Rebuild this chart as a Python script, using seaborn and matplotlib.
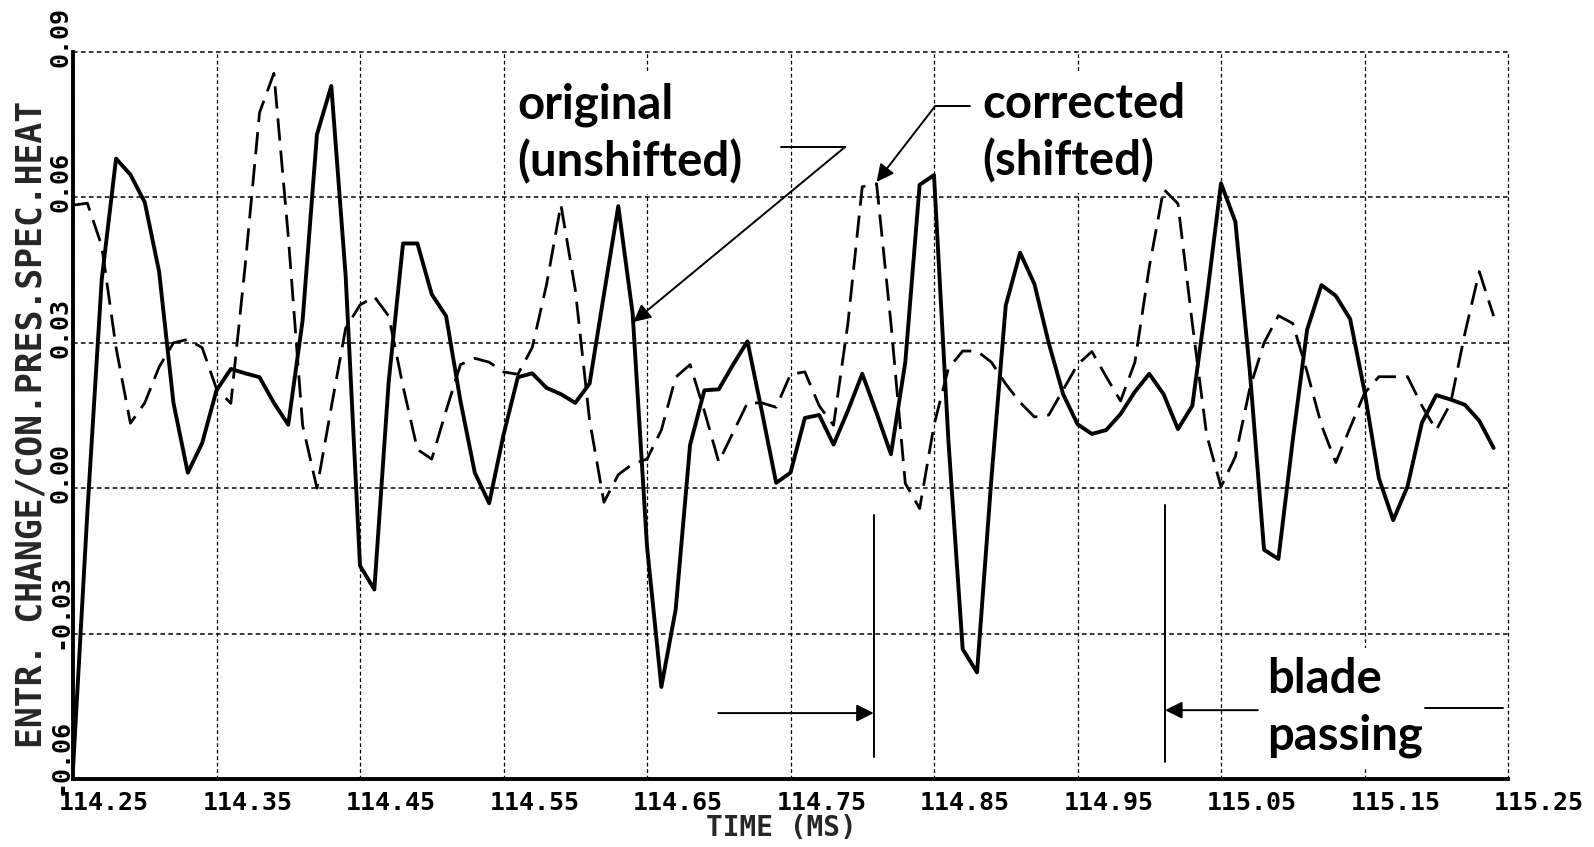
import matplotlib
matplotlib.use("Agg")
import matplotlib.pyplot as plt
import matplotlib.transforms as mtransforms
import pandas as pd
import seaborn as sns

# Sample times (ms), one sample every 0.01 ms
time_ms = [
    114.25, 114.26, 114.27, 114.28, 114.29, 114.30, 114.31, 114.32, 114.33, 114.34,
    114.35, 114.36, 114.37, 114.38, 114.39, 114.40, 114.41, 114.42, 114.43, 114.44,
    114.45, 114.46, 114.47, 114.48, 114.49, 114.50, 114.51, 114.52, 114.53, 114.54,
    114.55, 114.56, 114.57, 114.58, 114.59, 114.60, 114.61, 114.62, 114.63, 114.64,
    114.65, 114.66, 114.67, 114.68, 114.69, 114.70, 114.71, 114.72, 114.73, 114.74,
    114.75, 114.76, 114.77, 114.78, 114.79, 114.80, 114.81, 114.82, 114.83, 114.84,
    114.85, 114.86, 114.87, 114.88, 114.89, 114.90, 114.91, 114.92, 114.93, 114.94,
    114.95, 114.96, 114.97, 114.98, 114.99, 115.00, 115.01, 115.02, 115.03, 115.04,
    115.05, 115.06, 115.07, 115.08, 115.09, 115.10, 115.11, 115.12, 115.13, 115.14,
    115.15, 115.16, 115.17, 115.18, 115.19, 115.20, 115.21, 115.22, 115.23, 115.24,
]

# Entropy change / (c_p) -- original (unshifted) signal
original = [
    -0.058, -0.005, 0.043, 0.068, 0.0647, 0.059, 0.0447, 0.0176, 0.0032, 0.0093,
    0.0202, 0.0246, 0.0237, 0.0229, 0.0176, 0.0131, 0.0346, 0.073, 0.083, 0.0438,
    -0.016, -0.0209, 0.022, 0.0505, 0.0505, 0.040, 0.0355, 0.018, 0.0032, -0.0031,
    0.011, 0.0229, 0.0237, 0.0207, 0.0194, 0.0176, 0.0216, 0.040, 0.0582, 0.036,
    -0.012, -0.041, -0.025, 0.0089, 0.0202, 0.0204, 0.0255, 0.0303, 0.0159, 0.0011,
    0.0032, 0.0145, 0.0151, 0.009, 0.016, 0.0236, 0.0155, 0.007, 0.026, 0.0626,
    0.0646, 0.010, -0.0332, -0.038, 0.002, 0.0377, 0.0486, 0.0421, 0.0299, 0.0194,
    0.0132, 0.0112, 0.012, 0.0153, 0.0199, 0.0236, 0.0194, 0.0122, 0.017, 0.039,
    0.0629, 0.055, 0.0244, -0.0127, -0.0146, 0.0099, 0.0327, 0.0419, 0.0397, 0.0349,
    0.020, 0.0021, -0.0066, 0.0004, 0.0135, 0.0192, 0.0183, 0.0172, 0.0139, 0.0083,
]

# Corrected (shifted) signal
corrected = [
    0.0584, 0.0588, 0.050, 0.029, 0.0134, 0.0176, 0.025, 0.030, 0.0307, 0.029,
    0.0205, 0.0175, 0.046, 0.0775, 0.0856, 0.052, 0.013, 0.0, 0.0167, 0.033,
    0.0378, 0.0395, 0.0355, 0.021, 0.008, 0.006, 0.016, 0.0255, 0.0268, 0.026,
    0.024, 0.0235, 0.029, 0.042, 0.0585, 0.041, 0.014, -0.0029, 0.0028, 0.005,
    0.006, 0.012, 0.0229, 0.0255, 0.0159, 0.0054, 0.0115, 0.0176, 0.0176, 0.0167,
    0.0235, 0.024, 0.017, 0.013, 0.034, 0.0622, 0.0628, 0.034, 0.001, -0.0042,
    0.013, 0.0247, 0.0283, 0.0283, 0.026, 0.0215, 0.0177, 0.0147, 0.0151, 0.0203,
    0.0255, 0.0282, 0.023, 0.018, 0.026, 0.0456, 0.0617, 0.0587, 0.034, 0.011,
    0.0003, 0.0065, 0.0205, 0.030, 0.0356, 0.034, 0.024, 0.013, 0.0053, 0.0125,
    0.0196, 0.023, 0.023, 0.023, 0.017, 0.012, 0.0175, 0.032, 0.0447, 0.0355,
]

x_ticks = [114.25, 114.35, 114.45, 114.55, 114.65, 114.75, 114.85, 114.95, 115.05, 115.15, 115.25]
x_tick_labels = ["114.25", "114.35", "114.45", "114.55", "114.65", "114.75",
                 "114.85", "114.95", "115.05", "115.15", "115.25"]
y_ticks = [-0.06, -0.03, 0.00, 0.03, 0.06, 0.09]
y_tick_labels = ["-0.06", "-0.03", "0.00", "0.03", "0.06", "0.09"]

sns.set_theme(style="white")
plt.rcParams["font.family"] = ["DejaVu Sans"]

W, H, DPI = 1594, 847, 100
fig = plt.figure(figsize=(W / DPI, H / DPI), dpi=DPI)
fig.patch.set_facecolor("white")
ax = fig.add_axes([73 / W, 68 / H, 1435 / W, 727 / H])
ax.set_facecolor("white")

df = pd.DataFrame({"time": time_ms, "original": original, "corrected": corrected})

sns.lineplot(data=df, x="time", y="corrected", ax=ax, color="black", linewidth=2.0,
             linestyle=(0, (8, 3.6)), zorder=4)
sns.lineplot(data=df, x="time", y="original", ax=ax, color="black", linewidth=2.8,
             zorder=5)

ax.set_xlim(114.25, 115.25)
ax.set_ylim(-0.06, 0.09)

mono = dict(fontfamily="DejaVu Sans Mono", fontweight="bold")
ax.set_xticks(x_ticks, labels=x_tick_labels, fontsize=18, **mono)
ax.set_yticks(y_ticks, labels=y_tick_labels, fontsize=18, **mono)

# dotted grid; the top and right borders are grid lines as well
ax.set_axisbelow(True)
ax.xaxis.grid(True, color="black", linestyle=(0, (3, 2.2)), linewidth=0.9)
ax.yaxis.grid(True, color="black", linestyle=(0, (3, 2.2)), linewidth=1.1)
for gl in ax.get_xgridlines() + ax.get_ygridlines():
    gl.set_clip_on(False)

for side in ("top", "right"):
    ax.spines[side].set_visible(False)
for side in ("left", "bottom"):
    ax.spines[side].set_color("black")
    ax.spines[side].set_linewidth(2.8)

ax.tick_params(axis="x", direction="out", length=8, width=1.8, pad=0.8, colors="black")
ax.tick_params(axis="y", direction="inout", length=7, width=1.8, pad=0.2, colors="black")

# plotter-style label placement: numbers start just before their tick
off_x = mtransforms.ScaledTranslation(-14 / DPI, 0, fig.dpi_scale_trans)
for lbl in ax.get_xticklabels():
    lbl.set_horizontalalignment("left")
    lbl.set_transform(lbl.get_transform() + off_x)
off_y = mtransforms.ScaledTranslation(5 / DPI, -15 / DPI, fig.dpi_scale_trans)
for lbl in ax.get_yticklabels():
    lbl.set_rotation(90)
    lbl.set_verticalalignment("bottom")
    lbl.set_horizontalalignment("right")
    lbl.set_transform(lbl.get_transform() + off_y)

ax.set_xlabel("TIME (MS)", fontsize=20, **mono)
ax.set_ylabel("ENTR. CHANGE/CON.PRES.SPEC.HEAT", fontsize=25, **mono)
ax.xaxis.set_label_coords(0.4937, -0.0485)
ax.yaxis.set_label_coords(-0.0174, 0.488)

# annotations
ann_font = dict(fontfamily="Lato", fontweight="bold", fontsize=34, color="black")
box = dict(boxstyle="square,pad=0.2", facecolor="white", edgecolor="none")
arrow = dict(arrowstyle="-|>", color="black", lw=1.4, mutation_scale=26,
             shrinkA=0, shrinkB=0)

ax.text(114.5594, 0.0838, "original\n(unshifted)", ha="left", va="top",
        linespacing=1.35, bbox=box, zorder=3, **ann_font)
ax.plot([114.7434, 114.788], [0.0704, 0.0704], color="black", lw=1.4, zorder=6)
ax.annotate("", xy=(114.6405, 0.0343), xytext=(114.788, 0.0704),
            arrowprops=arrow, zorder=6)

ax.text(114.8834, 0.0839, "corrected\n(shifted)", ha="left", va="top",
        linespacing=1.35, bbox=box, zorder=3, **ann_font)
ax.plot([114.8507, 114.8751], [0.0788, 0.0788], color="black", lw=1.4, zorder=6)
ax.annotate("", xy=(114.81, 0.0632), xytext=(114.8507, 0.0788),
            arrowprops=arrow, zorder=6)

ax.text(115.082, -0.0348, "blade\npassing", ha="left", va="top",
        linespacing=1.35, bbox=box, zorder=3, **ann_font)
ax.plot([114.808, 114.808], [-0.0055, -0.0555], color="black", lw=1.4, zorder=6)
ax.plot([115.011, 115.011], [-0.0035, -0.0565], color="black", lw=1.4, zorder=6)
ax.annotate("", xy=(114.808, -0.0464), xytext=(114.6997, -0.0464),
            arrowprops=arrow, zorder=6)
ax.annotate("", xy=(115.011, -0.0458), xytext=(115.0758, -0.0458),
            arrowprops=arrow, zorder=6)
ax.plot([115.192, 115.2467], [-0.0454, -0.0454], color="black", lw=1.4, zorder=6)

fig.savefig("out.png", dpi=DPI, facecolor="white")
